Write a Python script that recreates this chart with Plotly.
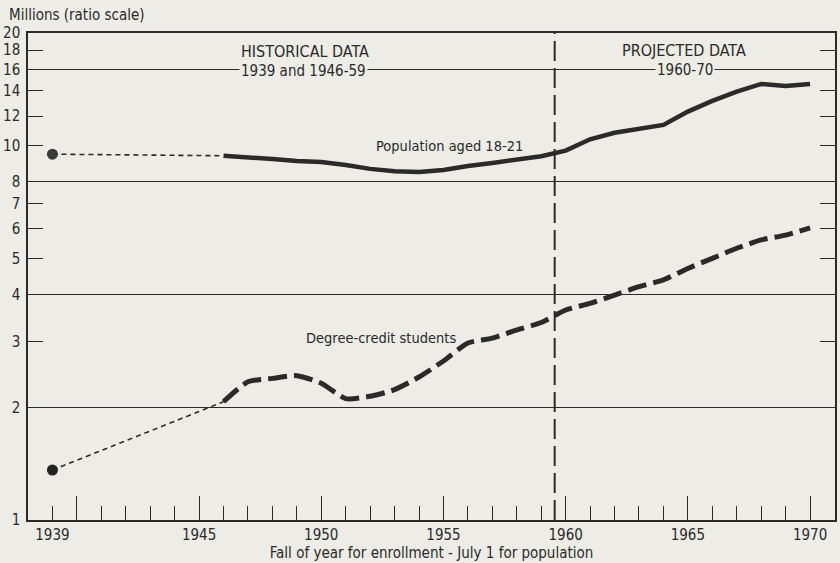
import plotly.graph_objects as go
import math

# ---- data ----
years = list(range(1946, 1971))
population = [9.40, 9.33, 9.21, 9.10, 9.04, 8.88, 8.67, 8.54, 8.51, 8.61,
              8.83, 8.99, 9.15, 9.37, 9.70, 10.40, 10.83, 11.13, 11.36, 12.33,
              13.17, 13.95, 14.62, 14.44, 14.62]
enrollment = [2.07, 2.34, 2.39, 2.43, 2.32, 2.11, 2.14, 2.23, 2.41, 2.66,
              2.97, 3.06, 3.22, 3.37, 3.64, 3.79, 3.99, 4.20, 4.38, 4.70,
              5.00, 5.32, 5.60, 5.77, 6.03]
year_1939 = 1939
population_1939 = 9.49
enrollment_1939 = 1.36

x_tick_years = list(range(1939, 1971))
x_label_years = [1939, 1945, 1950, 1955, 1960, 1965, 1970]
x_major_ticks = [1940, 1945, 1950, 1955, 1960, 1965, 1970]
y_tick_values = [1, 2, 3, 4, 5, 6, 7, 8, 10, 12, 14, 16, 18, 20]
y_grid_values = [2, 4, 8, 16]
divider_year = 1959.55

# ---- styling ----
BG = "#EDECE6"
INK = "#2a2a2a"
FONT = "DejaVu Sans Condensed, sans-serif"
FS = 15
XR = [1938, 1971.02]
YR = [0, math.log10(20)]

fig = go.Figure()

# population
fig.add_trace(go.Scatter(x=[year_1939, years[0]], y=[population_1939, population[0]],
                         mode="lines", line=dict(color=INK, width=1.6, dash="5px,4px"),
                         hoverinfo="skip", showlegend=False))
fig.add_trace(go.Scatter(x=years, y=population, mode="lines",
                         line=dict(color=INK, width=4.5), showlegend=False,
                         name="Population aged 18-21"))
fig.add_trace(go.Scatter(x=[year_1939], y=[population_1939], mode="markers",
                         marker=dict(color="#3a3a3a", size=11), showlegend=False))

# enrollment
fig.add_trace(go.Scatter(x=[year_1939, years[0]], y=[enrollment_1939, enrollment[0]],
                         mode="lines", line=dict(color=INK, width=1.6, dash="5px,4px"),
                         hoverinfo="skip", showlegend=False))
fig.add_trace(go.Scatter(x=years, y=enrollment, mode="lines",
                         line=dict(color=INK, width=5, dash="19px,7px", shape="spline", smoothing=0.6),
                         showlegend=False, name="Degree-credit students"))
fig.add_trace(go.Scatter(x=[year_1939], y=[enrollment_1939], mode="markers",
                         marker=dict(color="#222", size=11), showlegend=False))

# dummy traces to anchor overlay axes
fig.add_trace(go.Scatter(x=[None], y=[None], xaxis="x2", yaxis="y", showlegend=False, hoverinfo="skip"))
fig.add_trace(go.Scatter(x=[None], y=[None], xaxis="x", yaxis="y2", showlegend=False, hoverinfo="skip"))

# divider
fig.add_shape(type="line", xref="x", yref="paper", x0=divider_year, x1=divider_year,
              y0=0, y1=1, line=dict(color=INK, width=2, dash="20px,7px"))

def ann(text, x, yval, size=FS, bg=None, yshift=0):
    fig.add_annotation(text=text, x=x, y=math.log10(yval), xref="x", yref="y",
                       showarrow=False, font=dict(family=FONT, size=size, color=INK),
                       bgcolor=bg, borderpad=1, yshift=yshift)

ann("HISTORICAL DATA", 1949.33, 17.8, size=16)
ann("1939 and 1946-59", 1949.26, 16, bg=BG, yshift=-2)
ann("PROJECTED DATA", 1964.84, 18.0, size=16)
ann("1960-70", 1964.9, 16, bg=BG, yshift=-1)
ann("Population aged 18-21", 1955.23, 9.96, size=14.5)
ann("Degree-credit students", 1952.46, 3.06, size=14.5)

fig.add_annotation(text="Millions (ratio scale)", xref="paper", yref="paper",
                   x=-21/807, y=1, xanchor="left", yanchor="bottom", yshift=7,
                   showarrow=False, font=dict(family=FONT, size=FS, color=INK))

fig.update_layout(
    width=840, height=563, autosize=False,
    margin=dict(l=28, r=5, t=33, b=43, autoexpand=False),
    paper_bgcolor=BG, plot_bgcolor=BG,
    font=dict(family=FONT, size=FS, color=INK),
    xaxis=dict(range=XR, tickmode="array", tickvals=x_tick_years,
               ticktext=[str(y) if y in x_label_years else "" for y in x_tick_years],
               ticks="inside", ticklen=14, tickwidth=1.3, tickcolor=INK,
               showline=True, linecolor=INK, linewidth=1.5, mirror=True,
               showgrid=False, zeroline=False, tickfont=dict(size=FS), automargin=False,
               title=dict(text="Fall of year for enrollment - July 1 for population",
                          font=dict(size=FS), standoff=0)),
    xaxis2=dict(range=XR, overlaying="x", anchor="y", side="bottom",
                tickmode="array", tickvals=x_major_ticks, ticks="inside", ticklen=24,
                tickwidth=1.3, tickcolor=INK, showticklabels=False, showgrid=False,
                zeroline=False, showline=False, automargin=False),
    yaxis=dict(type="log", range=YR, tickmode="array", tickvals=y_tick_values,
               ticktext=[str(v) for v in y_tick_values],
               ticks="inside", ticklen=15, tickwidth=1.3, tickcolor=INK,
               showline=True, linecolor=INK, linewidth=1.5, mirror="ticks",
               showgrid=False, zeroline=False, tickfont=dict(size=FS), ticklabelstandoff=3,
               automargin=False),
    yaxis2=dict(type="log", range=YR, overlaying="y", anchor="x", side="left",
                tickmode="array", tickvals=y_grid_values, showgrid=True,
                gridcolor=INK, gridwidth=1.4, ticks="", showticklabels=False,
                zeroline=False, showline=False, automargin=False),
)

fig.write_html("out.html", config={"displayModeBar": False},
               post_script="document.body.style.margin='0px';document.body.style.background='%s';" % BG)
